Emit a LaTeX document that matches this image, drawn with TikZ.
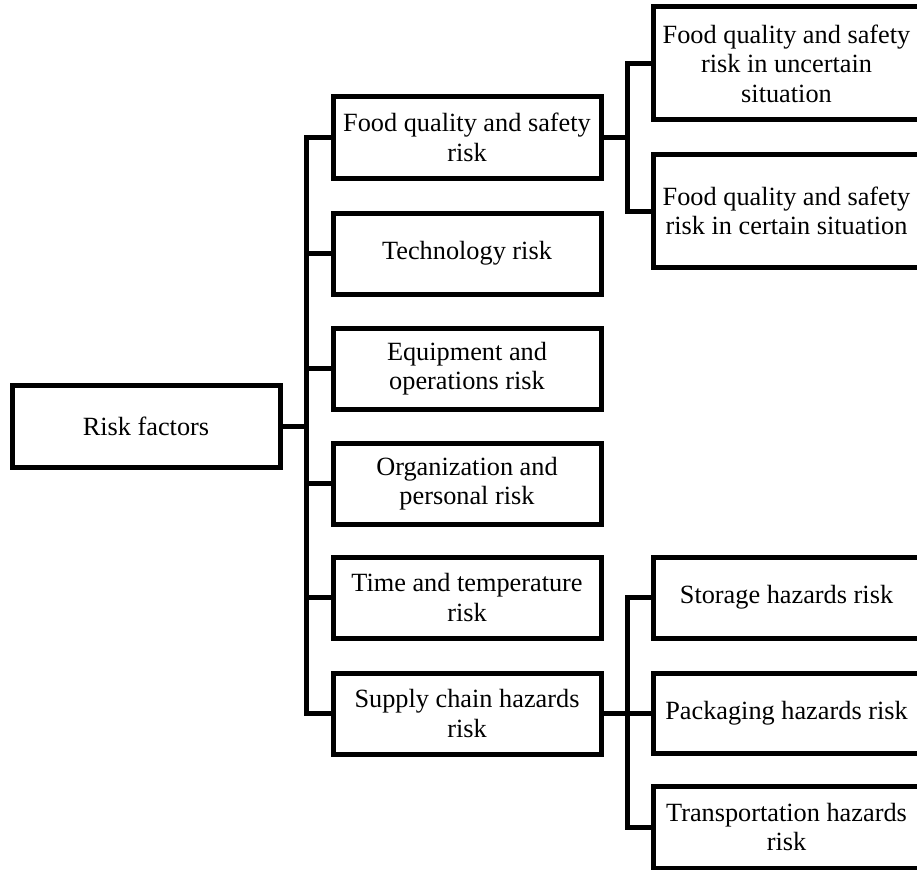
\documentclass[tikz,border=0pt]{standalone}
\usepackage{fontspec}
\setmainfont{Liberation Serif}
\begin{document}
\begin{tikzpicture}[x=1pt,y=-1pt,
  box/.style={draw, line width=5pt, minimum width=268pt, minimum height=81pt,
    inner sep=0pt, align=center, font=\fontsize{26.3}{29.5}\selectfont},
  leaf/.style={box, minimum width=267pt},
  link/.style={line width=5pt, line join=miter}]
\clip (0,0) rectangle (917,869);

% root
\node[box, minimum height=82pt] (root) at (146,426) {Risk factors};

% first level
\node[box] (fq)   at (467,137.5) {Food quality and safety\\risk};
\node[box] (tech) at (467,253.5) {Technology risk};
\node[box] (eq)   at (467,368.5) {Equipment and\\operations risk};
\node[box] (org)  at (467,483.5) {Organization and\\personal risk};
\node[box] (time) at (467,597.5) {Time and temperature\\risk};
\node[box] (sc)   at (467,713.5) {Supply chain hazards\\risk};

% second level
\node[leaf, minimum height=113pt] (fq1) at (786.5,63.5) {Food quality and safety\\risk in uncertain\\situation};
\node[leaf, minimum height=112pt] (fq2) at (786.5,211) {Food quality and safety\\risk in certain situation};
\node[leaf] (st) at (786.5,597.5) {Storage hazards risk};
\node[leaf, minimum height=80pt] (pk) at (786.5,713.5) {Packaging hazards risk};
\node[leaf, minimum height=82pt] (tr) at (786.5,827) {Transportation hazards\\risk};

% trunk from the root
\coordinate (j0) at (306,426);
\draw[link] (root.east) -- (j0);
\foreach \c in {fq,tech,eq,org,time,sc}
  \draw[link] (j0) |- (\c.west);

% food quality branch
\coordinate (j1) at (627,137.5);
\draw[link] (fq.east) -- (j1);
\foreach \c in {fq1,fq2}
  \draw[link] (j1) |- (\c.west);

% supply chain branch
\coordinate (j2) at (627,713.5);
\draw[link] (sc.east) -- (j2);
\foreach \c in {st,pk,tr}
  \draw[link] (j2) |- (\c.west);
\end{tikzpicture}
\end{document}
